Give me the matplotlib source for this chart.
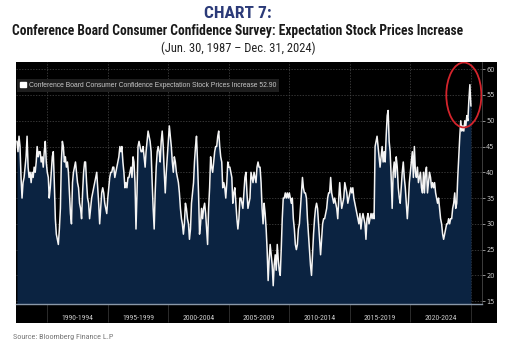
import matplotlib
matplotlib.use("Agg")
import matplotlib.pyplot as plt
import matplotlib.dates as mdates
import matplotlib.transforms as mtransforms
from matplotlib import font_manager as fm
from matplotlib.patches import Patch, Ellipse, Rectangle
import pandas as pd

# --- Data (monthly, % expecting stock prices to increase) ---
start_date = "1987-06-30"
end_date = "2024-12-31"
v1987 = [46, 44, 47, 45, 39, 35, 38]  # Jun-Dec
v1988 = [39, 41, 43, 47, 41, 39, 40, 38, 40, 39, 41, 40]
v1989 = [42, 45, 43, 44, 44, 42, 43, 41, 44, 46, 42, 40]
v1990 = [39, 35, 37, 40, 43, 44, 38, 31, 28, 27, 26, 29]
v1991 = [33, 42, 46, 45, 42, 43, 41, 42, 40, 36, 32, 30]
v1992 = [38, 40, 41, 42, 40, 38, 37, 34, 33, 31, 36, 40]
v1993 = [42, 42, 38, 35, 34, 31, 33, 35, 36, 37, 38, 39]
v1994 = [40, 37, 34, 30, 33, 36, 37, 36, 34, 33, 32, 35]
v1995 = [37, 39, 40, 40, 41, 41, 39, 40, 41, 42, 43, 45]
v1996 = [44, 45, 42, 40, 37, 38, 37, 39, 39, 40, 41, 39]
v1997 = [43, 42, 38, 29, 36, 45, 46, 45, 44, 44, 45, 43]
v1998 = [41, 44, 46, 48, 47, 46, 44, 38, 33, 29, 36, 41]
v1999 = [44, 45, 44, 42, 46, 48, 45, 40, 36, 40, 43, 46]
v2000 = [49, 47, 45, 42, 40, 43, 42, 40, 39, 38, 36, 33]
v2001 = [31, 30, 28, 30, 34, 33, 31, 30, 27, 29, 34, 36]
v2002 = [38, 42, 45, 47, 42, 36, 28, 30, 33, 31, 33, 34]
v2003 = [32, 29, 26, 33, 37, 43, 41, 40, 42, 44, 45, 45]
v2004 = [47, 48, 45, 43, 42, 37, 38, 37, 35, 38, 42, 41]
v2005 = [41, 40, 39, 34, 36, 37, 34, 31, 29, 31, 35, 35]
v2006 = [34, 33, 36, 39, 40, 36, 33, 34, 35, 40, 39, 38]
v2007 = [40, 39, 38, 41, 42, 41, 41, 38, 33, 30, 34, 32]
v2008 = [29, 25, 19, 23, 26, 24, 22, 18, 22, 24, 21, 26]
v2009 = [23, 21, 20, 25, 31, 35, 35, 36, 35, 36, 35, 36]
v2010 = [35, 34, 35, 31, 29, 26, 25, 26, 29, 30, 33, 36]
v2011 = [39, 37, 36, 36, 35, 31, 28, 25, 22, 20, 24, 28]
v2012 = [31, 33, 34, 33, 30, 27, 24, 27, 30, 31, 31, 32]
v2013 = [33, 35, 36, 36, 39, 36, 35, 34, 35, 34, 33, 31]
v2014 = [35, 38, 35, 33, 34, 35, 38, 37, 36, 34, 35, 36]
v2015 = [37, 36, 37, 35, 34, 33, 32, 31, 30, 32, 29, 31]
v2016 = [32, 31, 30, 27, 31, 32, 30, 31, 32, 31, 32, 31]
v2017 = [45, 46, 47, 45, 43, 41, 43, 45, 42, 44, 42, 47]
v2018 = [51, 52, 46, 44, 39, 33, 40, 42, 39, 43, 41, 37]
v2019 = [35, 34, 37, 40, 42, 39, 37, 34, 31, 34, 38, 40]
v2020 = [42, 44, 39, 45, 40, 39, 41, 38, 39, 40, 37, 36]
v2021 = [40, 36, 40, 41, 36, 38, 40, 39, 37, 38, 37, 38]
v2022 = [36, 35, 34, 35, 33, 31, 30, 28, 27, 28, 29, 30]
v2023 = [30, 31, 30, 31, 31, 33, 34, 36, 33, 34, 39, 43]
v2024 = [47, 50, 48, 49, 48, 50, 49, 51, 50, 54, 57, 52.9]

values = (v1987 + v1988 + v1989 + v1990 + v1991 + v1992 + v1993 + v1994 + v1995
          + v1996 + v1997 + v1998 + v1999 + v2000 + v2001 + v2002 + v2003 + v2004
          + v2005 + v2006 + v2007 + v2008 + v2009 + v2010 + v2011 + v2012 + v2013
          + v2014 + v2015 + v2016 + v2017 + v2018 + v2019 + v2020 + v2021 + v2022
          + v2023 + v2024)
dates = pd.date_range(start_date, end_date, freq="ME")

period_labels = ["1990-1994", "1995-1999", "2000-2004", "2005-2009",
                 "2010-2014", "2015-2019", "2020-2024"]
period_starts = [1990, 1995, 2000, 2005, 2010, 2015, 2020]
y_ticks = [15, 20, 25, 30, 35, 40, 45, 50, 55, 60]
legend_label = "Conference Board Consumer Confidence Expectation Stock Prices Increase 52.90"


# --- pick a condensed font if one is installed ---
def condensed_font(weight="normal"):
    names = {(f.name, f.stretch) for f in fm.fontManager.ttflist}
    for fam in ["Liberation Sans Narrow", "Roboto Condensed", "DejaVu Sans Condensed",
                "Open Sans Condensed"]:
        if any(n == fam for n, _ in names):
            return fm.FontProperties(family=fam, weight=weight), True
    for fam in ["Noto Sans", "Open Sans", "Roboto", "DejaVu Sans"]:
        if (fam, "condensed") in names or (fam, "semi-condensed") in names:
            st = "condensed" if (fam, "condensed") in names else "semi-condensed"
            return fm.FontProperties(family=fam, weight=weight, stretch=st), True
    return fm.FontProperties(family="Liberation Sans", weight=weight), False


bold_fp, cond_ok = condensed_font("bold")
reg_fp, _ = condensed_font("normal")

# --- Figure ---
W, H = 505, 354
fig = plt.figure(figsize=(W / 100, H / 100), dpi=100)
fig.patch.set_facecolor("white")

# black Bloomberg panel
fig.add_artist(Rectangle((16 / W, 1 - 323 / H), (497 - 16) / W, (323 - 62) / H,
                         transform=fig.transFigure, facecolor="black",
                         edgecolor="none", zorder=0))

ax = fig.add_axes([16 / W, 1 - 304 / H, (482 - 16) / W, (304 - 62) / H])
ax.set_facecolor("black")

x = mdates.date2num(dates)
ax.fill_between(x, values, 0, color="#0b2341", lw=0, zorder=2)
ax.plot(x, values, color="#f4f4f4", lw=1.1, zorder=3)

ax.set_ylim(14.45, 61.4)
ax.set_xlim(mdates.date2num(pd.Timestamp("1987-06-01")),
            mdates.date2num(pd.Timestamp("2025-12-01")))

# y axis on the right
ax.yaxis.tick_right()
ax.set_yticks(y_ticks)
ax.tick_params(axis="y", labelsize=4.8, colors="#c8c8c8", length=2, width=0.5, pad=1)

# x axis: 5-year separators and period labels
major = [mdates.date2num(pd.Timestamp(f"{y}-01-01")) for y in period_starts + [2025]]
minor = [mdates.date2num(pd.Timestamp(f"{y}-01-01")) for y in range(1988, 2026)]
ax.set_xticks(major)
ax.set_xticklabels([])
ax.set_xticks(minor, minor=True)
ax.tick_params(axis="x", which="major", length=13, width=0.6, color="#333333", direction="out")
ax.tick_params(axis="x", which="minor", length=1.5, width=0.5, color="#888888", direction="in")

trans = mtransforms.blended_transform_factory(ax.transData, ax.transAxes)
for lab, y0 in zip(period_labels, period_starts):
    xm = mdates.date2num(pd.Timestamp(f"{y0 + 2}-07-01"))
    ax.text(xm, -0.058, lab, transform=trans, ha="center", va="center",
            fontproperties=reg_fp, fontsize=5.6, color="#c8c8c8")

ax.grid(True, which="major", color="#4a4a4a", lw=0.5, ls=(0, (2, 2)), zorder=1)

for s in ["top", "left"]:
    ax.spines[s].set_visible(False)
ax.spines["bottom"].set_color("#8a98a8")
ax.spines["bottom"].set_linewidth(1.0)
ax.spines["right"].set_color("#555555")
ax.spines["right"].set_linewidth(0.5)

# legend
leg = ax.legend(handles=[Patch(facecolor="white", edgecolor="white", label=legend_label)],
                loc="upper left", bbox_to_anchor=(0.0, 0.935),
                prop=fm.FontProperties(family="Liberation Sans", size=4.85),
                facecolor="#1e1e1e", edgecolor="none", framealpha=1, labelcolor="#c8c8c8",
                handlelength=0.9, handleheight=0.9, handletextpad=0.4,
                borderpad=0.4, borderaxespad=0.2, fancybox=False)

# red circle around the latest spike
ell_x = mdates.date2num(pd.Timestamp("2024-06-01"))
ell = Ellipse((ell_x, 55.0), width=2.9 * 365, height=12.6, fill=False,
              edgecolor="#d4242c", lw=1.3, zorder=5)
ax.add_patch(ell)

# titles
sub_size = 9.75 if cond_ok else 7.6
fig.text(238 / W, 1 - 13 / H, "CHART 7:", ha="center", va="center",
         fontproperties=bold_fp, fontsize=12.5 if cond_ok else 10, color="#2b3a78")
fig.text(238 / W, 1 - 31 / H,
         "Conference Board Consumer Confidence Survey: Expectation Stock Prices Increase",
         ha="center", va="center", fontproperties=bold_fp, fontsize=sub_size, color="#1a1a1a")
fig.text(238 / W, 1 - 48 / H, "(Jun. 30, 1987 \u2013 Dec. 31, 2024)",
         ha="center", va="center", fontproperties=reg_fp, fontsize=9, color="#222222")
fig.text(13 / W, 1 - 337 / H, "Source: Bloomberg Finance L.P", ha="left", va="center",
         fontproperties=reg_fp, fontsize=5.9 if cond_ok else 4.95, color="#777777")

fig.savefig("out.png", dpi=100)
